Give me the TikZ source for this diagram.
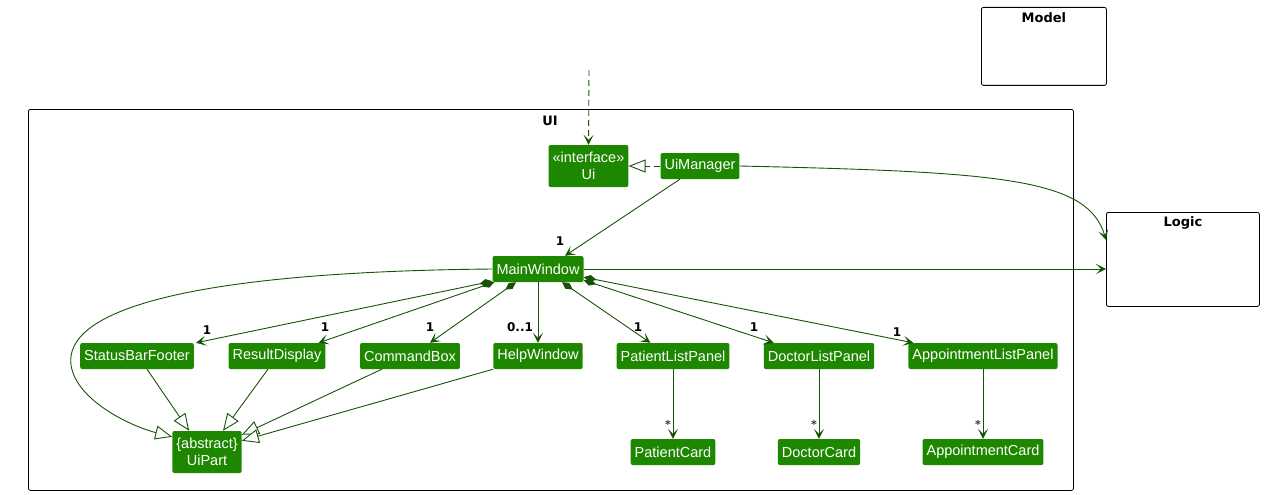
\documentclass[tikz,border=0pt]{standalone}
\usepackage{fontspec}
\setmainfont{Liberation Sans}
\newfontfamily\titlefont{DejaVu Sans}
\usetikzlibrary{arrows.meta,calc}
\definecolor{uifill}{RGB}{30,135,0}
\definecolor{uiline}{RGB}{24,82,9}

\begin{document}
\begin{tikzpicture}[x=1pt,y=-1pt,
  cls/.style={fill=uifill, text=white, rounded corners=2pt,
    font=\fontsize{14.5}{16.5}\selectfont, inner xsep=4pt, inner ysep=0pt,
    minimum height=26pt, align=center},
  cls2/.style={cls, minimum height=42pt},
  pkg/.style={draw=black, line width=0.8pt, rounded corners=2pt, anchor=north west, inner sep=0pt},
  pkgtitle/.style={font=\titlefont\bfseries\fontsize{13}{15}\selectfont, inner sep=0pt},
  tip/.tip={Stealth[length=10pt,width=10pt,inset=5pt]},
  assoc/.style={draw=uiline, line width=0.9pt, -tip},
  comp/.style={draw=uiline, line width=0.9pt,
    {Diamond[length=13pt,width=7pt,fill=uiline]}-tip},
  gen/.style={draw=uiline, line width=0.9pt,
    -{Triangle[open,length=17pt,width=14pt,fill=white]}},
  mult/.style={font=\titlefont\bfseries\fontsize{12}{14}\selectfont, inner sep=0pt},
  star/.style={font=\titlefont\bfseries\fontsize{11}{13}\selectfont, inner sep=0pt, text=black!80},
]
\useasboundingbox (0,0) rectangle (1264,495);

% packages
\node[pkg, minimum width=1045pt, minimum height=381pt] (UIpkg) at (28,109) {};
\node[pkgtitle] (UIpkgTitle) at (550,121) {UI};
\node[pkg, minimum width=125pt, minimum height=78pt] (Model) at (981,7) {};
\node[pkgtitle] (ModelTitle) at ($(Model.north)+(0,11)$) {Model};
\node[pkg, minimum width=153pt, minimum height=94pt] (Logic) at (1106,212) {};
\node[pkgtitle] (LogicTitle) at ($(Logic.north)+(0,11)$) {Logic};

% classes
\node[cls2] (Ui) at (588.5,166) {«interface»\\Ui};
\node[cls] (UiManager) at (700,166) {UiManager};
\node[cls] (MainWindow) at (538,269) {MainWindow};
\node[cls] (StatusBarFooter) at (137,356) {StatusBarFooter};
\node[cls] (ResultDisplay) at (277,356) {ResultDisplay};
\node[cls] (CommandBox) at (410,356) {CommandBox};
\node[cls] (HelpWindow) at (538,356) {HelpWindow};
\node[cls] (PatientListPanel) at (673,356) {PatientListPanel};
\node[cls] (DoctorListPanel) at (819,356) {DoctorListPanel};
\node[cls] (AppointmentListPanel) at (983,356) {AppointmentListPanel};
\node[cls2] (UiPart) at (207,452) {\{abstract\}\\UiPart};
\node[cls] (PatientCard) at (673,452) {PatientCard};
\node[cls] (DoctorCard) at (819,452) {DoctorCard};
\node[cls] (AppointmentCard) at (983,452) {AppointmentCard};

% external use of the Ui interface
\coordinate (uiuser) at (589,70);
\draw[assoc, dash pattern=on 6pt off 4pt] (uiuser) -- (Ui.north);

% UiManager
\draw[draw=uiline, line width=0.9pt, dash pattern=on 6pt off 4pt,
  -{Triangle[open,length=17pt,width=13pt,fill=white]}] (UiManager.west) -- (Ui.east);
\draw[assoc] ($(UiManager.south)+(-20,0)$) -- ($(MainWindow.north)+(27,0)$);
\node[mult] (mUiMgr) at (560,241) {1};
\draw[assoc] (UiManager.east) .. controls (1000,172) and (1088,178) .. ($(Logic.north west)+(0,28)$);

% MainWindow
\draw[assoc] (MainWindow.east) -- (MainWindow.east -| Logic.west);
\draw[gen] (MainWindow.west) .. controls (180,272) and (64,312) .. (71,365)
  .. controls (76,400) and (130,426) .. ($(UiPart.north west)+(0,6)$);

\draw[comp] ($(MainWindow.south west)+(0,-1)$) -- ($(StatusBarFooter.north east)+(2,0)$);
\node[mult] (mSBF) at (207,330) {1};
\draw[comp] ($(MainWindow.south west)+(2,0)$) -- ($(ResultDisplay.north east)+(-7,0)$);
\node[mult] (mRD) at (325,327) {1};
\draw[comp] ($(MainWindow.south)+(-22,0)$) -- ($(CommandBox.north)+(20,0)$);
\node[mult] (mCB) at (430,327) {1};
\draw[assoc] (MainWindow.south) -- (HelpWindow.north);
\node[mult] (mHW) at (520,327) {0..1};
\draw[comp] ($(MainWindow.south)+(24,0)$) -- ($(PatientListPanel.north west)+(34,0)$);
\node[mult] (mPLP) at (638,327) {1};
\draw[comp] ($(MainWindow.south east)+(0,-2)$) -- ($(DoctorListPanel.north west)+(10,0)$);
\node[mult] (mDLP) at (754,327) {1};
\draw[comp] ($(MainWindow.south east)+(0,-5)$) -- ($(AppointmentListPanel.north west)+(5,0)$);
\node[mult] (mALP) at (897,332) {1};

% list panels and their cards
\draw[assoc] (PatientListPanel.south) -- (PatientCard.north);
\node[star] (sPC) at ($(PatientCard.north)+(-5,-14)$) {*};
\draw[assoc] (DoctorListPanel.south) -- (DoctorCard.north);
\node[star] (sDC) at ($(DoctorCard.north)+(-5,-14)$) {*};
\draw[assoc] (AppointmentListPanel.south) -- (AppointmentCard.north);
\node[star] (sAC) at ($(AppointmentCard.north)+(-5,-14)$) {*};

% UiPart subclasses
\draw[gen] ($(StatusBarFooter.south)+(10,0)$) -- ($(UiPart.north west)+(17,0)$);
\draw[gen] ($(ResultDisplay.south)+(-9,0)$) -- ($(UiPart.north)+(16,0)$);
\draw[gen] ($(CommandBox.south west)+(22,0)$) -- ($(UiPart.north east)+(0,4)$);
\draw[gen] (HelpWindow.south west) -- ($(UiPart.north east)+(0,10)$);
\end{tikzpicture}
\end{document}
